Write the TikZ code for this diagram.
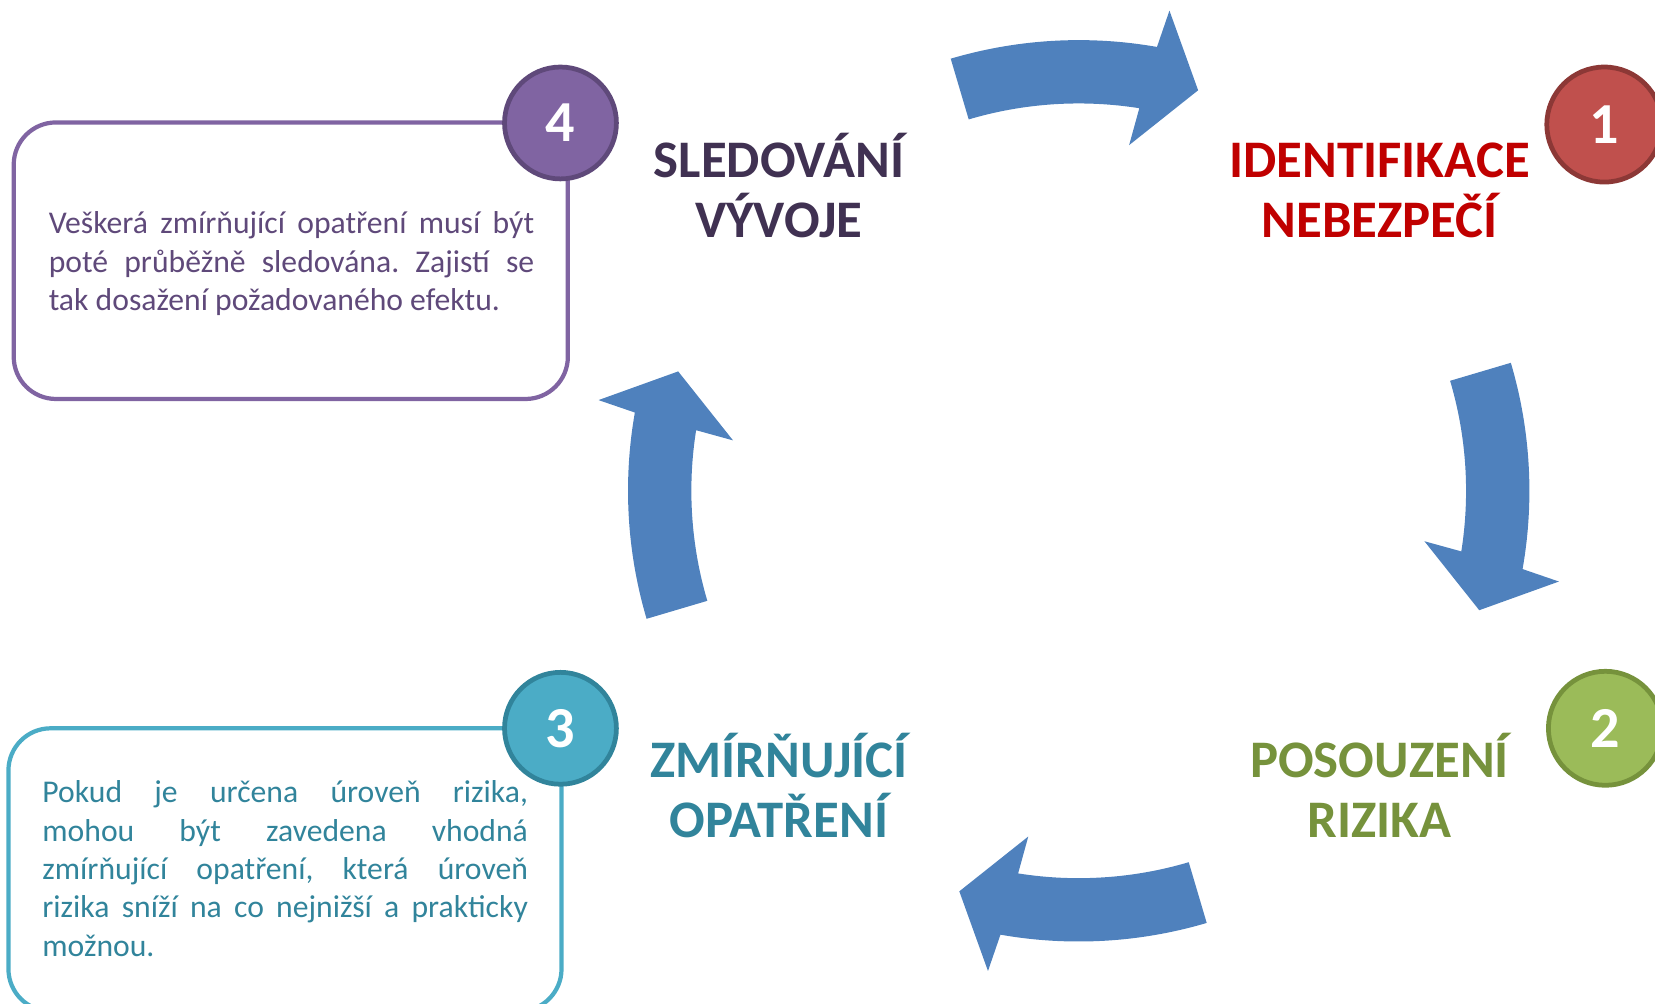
\documentclass[tikz,border=0pt]{standalone}
\usepackage{fontspec}
\setmainfont{Carlito}
\frenchspacing
\definecolor{ablue}{HTML}{4F81BD}
\definecolor{purp}{HTML}{8064A2}
\definecolor{purpd}{HTML}{5F497A}
\definecolor{purpt}{HTML}{403152}
\definecolor{aqua}{HTML}{4BACC6}
\definecolor{aquad}{HTML}{31849B}
\definecolor{redf}{HTML}{C0504D}
\definecolor{redd}{HTML}{8C3836}
\definecolor{redt}{HTML}{C00000}
\definecolor{grn}{HTML}{9BBB59}
\definecolor{grnd}{HTML}{76923C}
\begin{document}
\begin{tikzpicture}[x=1pt,y=-1pt,
  numcirc/.style={circle, minimum size=106pt, inner sep=0pt, line width=4.5pt, text=white,
    font=\fontsize{55}{55}\selectfont\bfseries},
  titletext/.style={anchor=base, inner sep=0pt, font=\fontsize{50}{57}\selectfont\bfseries},
  bodytext/.style={anchor=base west, inner sep=0pt, font=\fontsize{30}{36}\selectfont},
  infobox/.style={rounded corners=40pt, line width=4pt},
  cyclearrow/.style={fill=ablue}
]
\useasboundingbox (0,0) rectangle (1568,951);
% info boxes
\draw[infobox, purp] (13,116) rectangle (538,378);
\draw[infobox, aqua] (8,690) rectangle (532,958);
% number circles
\node[numcirc, fill=purp, draw=purpd] (c4) at (531,116.5) {4};
\node[numcirc, fill=aqua, draw=aquad] (c3) at (531,690) {3};
\node[numcirc, fill=redf, draw=redd, minimum size=109pt] (c1) at (1520,118) {1};
\node[numcirc, fill=grn, draw=grnd, minimum size=108pt] (c2) at (1521,690) {2};
% circular arrows
\coordinate (ctr) at (1022,465);
\foreach \o in {0,90,180,270}{
  \begin{scope}[shift={(ctr)}]
    \fill[cyclearrow] (-106.5+\o:427) arc[start angle=-106.5+\o, end angle=-80+\o, radius=427]
      -- (-79.3+\o:463) -- (-73.4+\o:396) -- (-81.7+\o:331) -- (-81+\o:367)
      arc[start angle=-81+\o, end angle=-106.5+\o, radius=367] -- cycle;
  \end{scope}
}
% titles
\node[titletext, text=purpt] (t4a) at (738,168) {SLEDOVÁNÍ};
\node[titletext, text=purpt] (t4b) at (738,225) {VÝVOJE};
\node[titletext, text=redt] (t1a) at (1307,168) {IDENTIFIKACE};
\node[titletext, text=redt] (t1b) at (1307,225) {NEBEZPEČÍ};
\node[titletext, text=aquad] (t3a) at (738,737) {ZMÍRŇUJÍCÍ};
\node[titletext, text=aquad] (t3b) at (738,793) {OPATŘENÍ};
\node[titletext, text=grnd] (t2a) at (1307,737) {POSOUZENÍ};
\node[titletext, text=grnd] (t2b) at (1307,793) {RIZIKA};
% body text box 4
\node[bodytext, text=purpd] (b4a) at (46,221) {\makebox[460pt][s]{Veškerá zmírňující opatření musí být}};
\node[bodytext, text=purpd] (b4b) at (46,258) {\makebox[460pt][s]{poté průběžně sledována. Zajistí se}};
\node[bodytext, text=purpd] (b4c) at (46,294) {tak dosažení požadovaného efektu.};
% body text box 3
\node[bodytext, text=aquad] (b3a) at (40,760) {\makebox[460pt][s]{Pokud je určena úroveň rizika,}};
\node[bodytext, text=aquad] (b3b) at (40,797) {\makebox[460pt][s]{mohou být zavedena vhodná}};
\node[bodytext, text=aquad] (b3c) at (40,833) {\makebox[460pt][s]{zmírňující opatření, která úroveň}};
\node[bodytext, text=aquad] (b3d) at (40,869) {\makebox[460pt][s]{rizika sníží na co nejnižší a prakticky}};
\node[bodytext, text=aquad] (b3e) at (40,906) {možnou.};
\end{tikzpicture}
\end{document}
